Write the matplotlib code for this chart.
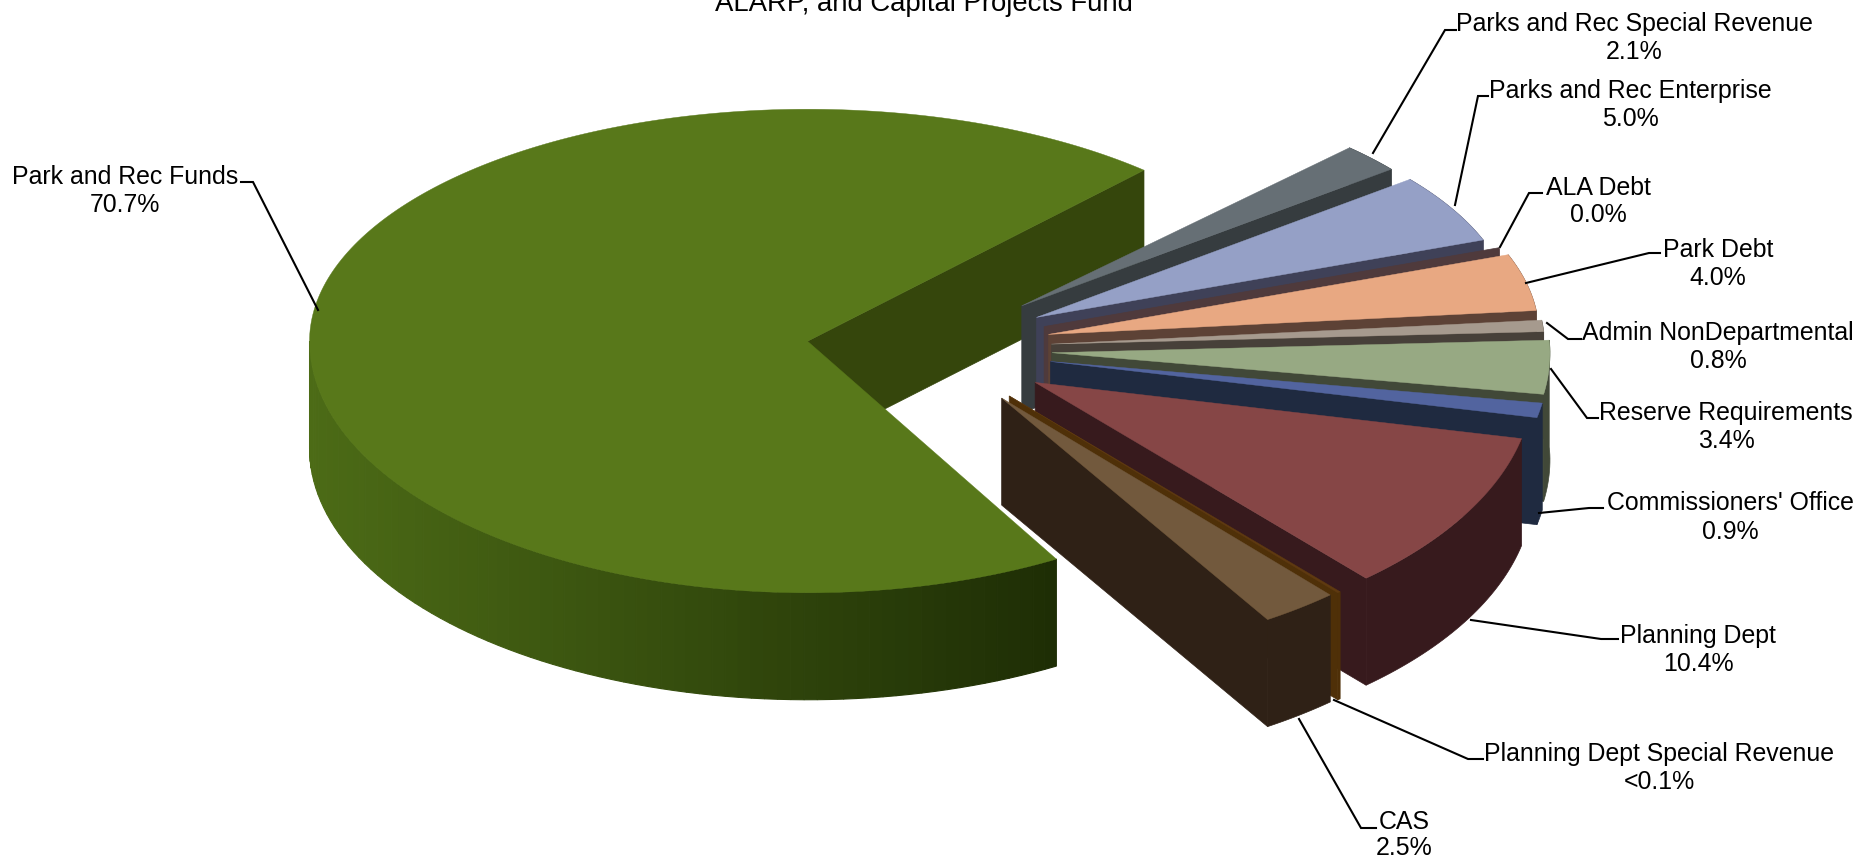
import numpy as np
import matplotlib
matplotlib.use('Agg')
import matplotlib.pyplot as plt
from matplotlib.colors import to_rgb

plt.rcParams['font.family'] = ['Liberation Sans', 'DejaVu Sans']

# data, counter clockwise from the big slice
names = ['Park and Rec Funds', 'CAS', 'Planning Dept Special Revenue', 'Planning Dept',
         "Commissioners' Office", 'Reserve Requirements', 'Admin NonDepartmental',
         'Park Debt', 'ALA Debt', 'Parks and Rec Enterprise', 'Parks and Rec Special Revenue']
values = [70.7, 2.5, 0.1, 10.4, 0.9, 3.4, 0.8, 4.0, 0.0, 5.0, 2.1]
value_labels = ['70.7%', '2.5%', '<0.1%', '10.4%', '0.9%', '3.4%', '0.8%', '4.0%', '0.0%', '5.0%', '2.1%']

# styles
top_colors = ['#58781a', '#72593d', '#5f3a10', '#864646', '#52649f', '#97a983',
              '#a69a8e', '#e8a882', '#5a4044', '#95a0c6', '#666f75']
side_colors = ['#35460c', '#2f2116', '#4f3008', '#371a1d', '#1f2a40', '#414838',
               '#474039', '#5d4236', '#4f3a3c', '#3f4158', '#363c3f']
explode = [136, 98, 100, 106, 109, 109, 109, 109, 109, 109, 109]
radius_scale = [1, 1, 1, 1, 1, 1, 0.99, 0.985, 0.975, 0.957, 0.947]
low_scale = [0.96, 1, 1, 1, 1, 1, 1, 1, 1, 1, 1]
lift = [2.5, 0, 0, 0, 0, 0, 0, 0, 0, 0, 0]
end_trim = [2.3, 0, 0, 0, 0, 0, 0, 0, 0, 0, 0]  # big slice stops a little early in the picture

# pie geometry in pixels
cx, cy = 943, 351
rx, ry_up, ry_low = 498, 232, 262
depth = 107
start_angle = 47.5
explode_k = 0.6

# label text centre (x, first line y, second line y)
label_pos = [(125, 177, 205), (1404, 822, 848), (1659, 754, 782), (1698, 636, 664),
             (1730, 503, 532), (1726, 413, 441), (1718, 333, 361),
             (1718, 250, 278), (1598, 188, 215), (1630, 91, 119), (1634, 24, 52)]
leaders = [[(241, 182), (253, 182), (318, 310)], [(1376, 828), (1361, 828), (1299, 719)],
           [(1483, 759), (1468, 759), (1334, 700)], [(1618, 639), (1601, 639), (1471, 620)],
           [(1603, 508), (1589, 508), (1539, 513)], [(1598, 418), (1587, 418), (1551, 369)],
           [(1581, 339), (1568, 339), (1547, 323)], [(1660, 253), (1649, 253), (1526, 283)],
           [(1542, 193), (1529, 193), (1500, 247)], [(1488, 96), (1478, 96), (1455, 205)],
           [(1456, 30), (1445, 30), (1373, 153)]]


def ell(t, ax0, ay0, scale=1.0, low=1.0):
    # point on the top ellipse, lower half is a bit taller (perspective)
    t = np.radians(t)
    s = np.sin(t)
    ry = np.where(s > 0, ry_up, ry_low * low)
    return ax0 + scale * rx * np.cos(t), ay0 - scale * ry * s


def warp(t):
    # small slices sit slightly lower round the rim than their share says
    u = ((np.asarray(t) + 180) % 360) - 180
    return t - 1.5 * np.clip((u + 48) / 36, 0, 1)


def apex(t, e):
    r = np.radians(t)
    return cx + e * np.cos(r), cy - e * explode_k * np.sin(r)


def shade(x, x0, x1):
    # side of big slice gets darker to the right
    c0 = np.array(to_rgb('#4c6b16'))
    c1 = np.array(to_rgb('#1e2e05'))
    f = np.clip((x - x0) / (x1 - x0), 0, 1)
    return c0 + (c1 - c0) * f


fig = plt.figure(figsize=(18.6, 8.58), dpi=100)
ax = fig.add_axes([0, 0, 1, 1])
ax.set_xlim(0, 1860)
ax.set_ylim(858, 0)
ax.axis('off')

spans = np.array(values) / sum(values) * 360
t0s = start_angle + np.concatenate([[0], np.cumsum(spans)[:-1]])
t1s = t0s + spans

# big slice first, then back to front
order = [0] + list(range(len(values) - 1, 0, -1))
for i in order:
    t0, t1 = t0s[i], t1s[i]
    x0, y0 = apex((t0 + t1) / 2, explode[i])
    y0 = y0 - lift[i]
    t1 = t1 - end_trim[i]
    n = max(int(spans[i]) + 2, 3)
    ts = np.linspace(t0, t1, n)
    if i > 0:
        ts = warp(ts)
    xs, ys = ell(ts, x0, y0, radius_scale[i], low_scale[i])

    # outer wall
    if i == 0:
        front = np.linspace(180, t1, 80)
        fx, fy = ell(front, x0, y0, 1.0, low_scale[i])
        for j in range(len(front) - 1):
            c = shade((fx[j] + fx[j + 1]) / 2, fx[0], fx[-1])
            ax.fill([fx[j], fx[j + 1], fx[j + 1], fx[j]],
                    [fy[j], fy[j + 1], fy[j + 1] + depth, fy[j] + depth],
                    color=c, lw=0.8)
    else:
        ax.fill(np.r_[xs, xs[::-1]], np.r_[ys, ys[::-1] + depth], color=side_colors[i], lw=0.5)

    # cut face at the clockwise edge
    ax.fill([x0, xs[0], xs[0], x0], [y0, ys[0], ys[0] + depth, y0 + depth],
            color=side_colors[i], lw=0.5)

    # top
    if values[i] > 0:
        ax.fill(np.r_[x0, xs], np.r_[y0, ys], color=top_colors[i], lw=0.3)

for i in range(len(names)):
    path = np.array(leaders[i])
    ax.plot(path[:, 0], path[:, 1], color='black', lw=1.5, solid_joinstyle='miter')
    x, y1, y2 = label_pos[i]
    ax.text(x, y1, names[i], ha='center', va='center', fontsize=17.9, color='black')
    ax.text(x, y2, value_labels[i], ha='center', va='center', fontsize=17.9, color='black')

ax.text(924, 4, 'ALARP, and Capital Projects Fund', ha='center', va='center', fontsize=19.8, color='black')

fig.savefig('out.png', dpi=100)
